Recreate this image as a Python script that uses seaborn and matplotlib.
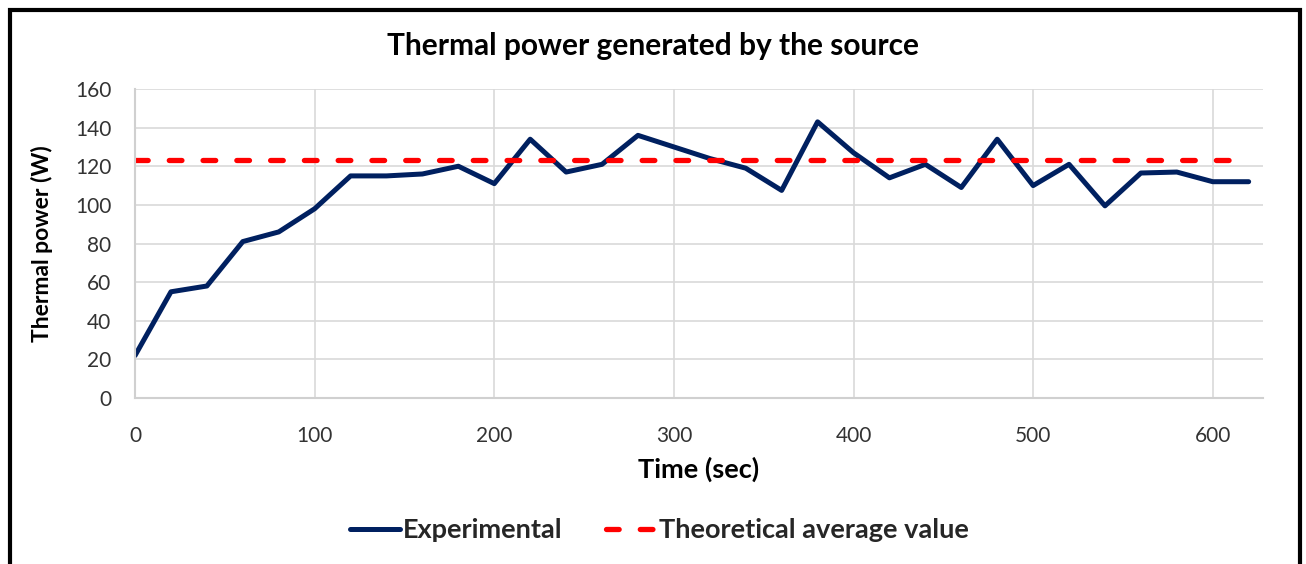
import pandas as pd
import matplotlib.pyplot as plt
import seaborn as sns
from matplotlib.patches import Rectangle

# Data (every 20 s)
time_s = [0, 20, 40, 60, 80, 100, 120, 140, 160, 180, 200, 220, 240, 260, 280, 300,
          320, 340, 360, 380, 400, 420, 440, 460, 480, 500, 520, 540, 560, 580, 600, 620]
power_w = [22, 55, 58, 81, 86, 98, 115, 115, 116, 120, 111, 134, 117, 121, 136, 130,
           124, 119, 107.5, 143, 127, 114, 121, 109, 134, 110, 121, 99.5, 116.5, 117, 112, 112]
theo_avg = 123

y_ticks = [0, 20, 40, 60, 80, 100, 120, 140, 160]
x_ticks = [0, 100, 200, 300, 400, 500, 600]

df = pd.DataFrame({'Time': time_s, 'Experimental': power_w})
df['Theoretical average value'] = theo_avg

sns.set_style('white')
plt.rcParams['font.family'] = ['Lato', 'DejaVu Sans']

fig = plt.figure(figsize=(13.06, 5.64), dpi=100)
ax = fig.add_axes([0.1034, 0.2943, 0.8637, 0.5479])

sns.lineplot(data=df, x='Time', y='Experimental', ax=ax, color='#002060',
             linewidth=3.6, label='Experimental', solid_capstyle='round',
             solid_joinstyle='round', legend=False)
sns.lineplot(data=df, x='Time', y='Theoretical average value', ax=ax, color='#ff0000',
             linewidth=3.8, label='Theoretical average value',
             linestyle=(0, (2.4, 4.0)), dash_capstyle='round', legend=False)

ax.set_xlim(0, 628)
ax.set_ylim(0, 160)
ax.set_xticks(x_ticks)
ax.set_yticks(y_ticks)
ax.tick_params(axis='both', length=0, labelsize=15, colors='#333333')
ax.tick_params(axis='x', pad=20)
ax.tick_params(axis='y', pad=17)
ax.grid(True, color='#d9d9d9', linewidth=1.2)
ax.set_axisbelow(True)
for side in ['top', 'right']:
    ax.spines[side].set_visible(False)
for side in ['left', 'bottom']:
    ax.spines[side].set_color('#d0d0d0')
    ax.spines[side].set_linewidth(1.5)

ax.set_xlabel('Time (sec)', fontsize=19.5, fontweight='bold', color='black')
ax.xaxis.set_label_coords(0.5, -0.19)
ax.set_ylabel('Thermal power (W)', fontsize=16.5, fontweight='bold', color='black')
ax.yaxis.set_label_coords(-0.0727, 0.5)
fig.text(0.5, 0.918, 'Thermal power generated by the source', ha='center', va='center',
         fontsize=21.5, fontweight='bold', color='black')

handles, labels = ax.get_legend_handles_labels()
fig.legend(handles, labels, loc='center', bbox_to_anchor=(0.505, 0.06), ncol=2,
           frameon=False, prop={'weight': 'bold', 'size': 19.5}, handlelength=1.85,
           handletextpad=0.1, columnspacing=1.6)

# outer chart frame
fig.patches.append(Rectangle((0.0077, -0.02), 0.988, 1.002, transform=fig.transFigure,
                             fill=False, edgecolor='black', linewidth=3))

fig.savefig('out.png', dpi=100)
